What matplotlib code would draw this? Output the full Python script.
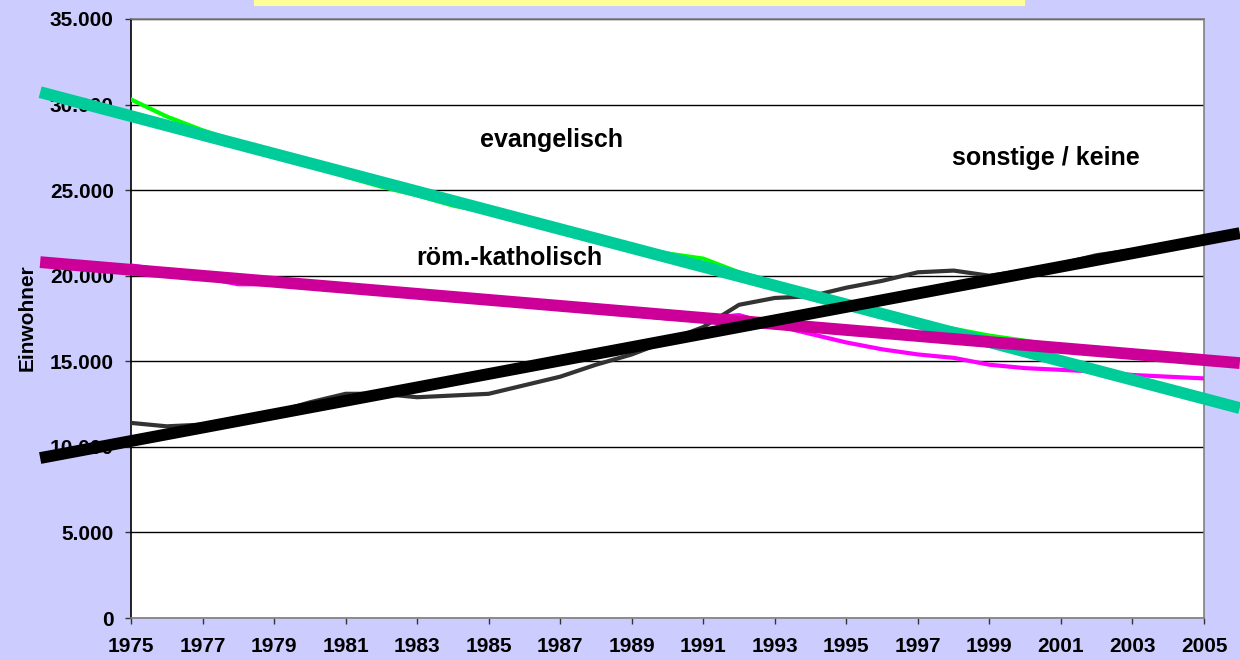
import matplotlib
matplotlib.use("Agg")
import matplotlib.pyplot as plt
from matplotlib.patches import Rectangle

plt.rcParams['font.family'] = ['Liberation Sans', 'DejaVu Sans']
plt.rcParams['font.weight'] = 'bold'

years = list(range(1975, 2006))
evangelisch = [30300, 29300, 28500, 27800, 27200, 26500, 25800, 25200, 24700, 24100,
               23700, 23200, 22600, 22200, 21700, 21300, 21000, 20200, 19600, 18900,
               18300, 17700, 17200, 16900, 16500, 16200, 15900, 15800, 15500, 15400, 15300]
katholisch = [20600, 20300, 19900, 19500, 19500, 19500, 19400, 19200, 19000, 18800,
              18600, 18300, 18100, 17900, 17700, 17500, 17500, 17700, 17100, 16600,
              16100, 15700, 15400, 15200, 14800, 14600, 14500, 14400, 14200, 14100, 14000]
sonstige = [11400, 11200, 11300, 11600, 12000, 12600, 13100, 13100, 12900, 13000,
            13100, 13600, 14100, 14800, 15400, 16200, 17000, 18300, 18700, 18800,
            19300, 19700, 20200, 20300, 20000, 20300, 20700, 21200, 21500, 21800, 22000]

trend_years = [1972.46, 2006.0]
trend_evangelisch = [30724, 12266]
trend_katholisch = [20794, 14895]
trend_sonstige = [9346, 22488]

xtick_years = list(range(1975, 2006, 2))
yticks = [0, 5000, 10000, 15000, 20000, 25000, 30000, 35000]
ytick_labels = ["0", "5.000", "10.000", "15.000", "20.000", "25.000", "30.000", "35.000"]

fig = plt.figure(figsize=(12.4, 6.6), dpi=100, facecolor='#CCCCFF')
ax = fig.add_axes([131/1240, 1-618/660, (1204-131)/1240, (618-19)/660])
ax.set_facecolor('white')

# yellow title box (cut off at top)
fig.patches.append(Rectangle((254/1240, 1-6/660), (1025-254)/1240, 6/660 + 0.01,
                             transform=fig.transFigure, facecolor='#FFFF99',
                             edgecolor='none', zorder=0))

ax.plot(years, evangelisch, color='#00FF00', lw=3, zorder=3, solid_joinstyle='round')
ax.plot(years, katholisch, color='#FF00FF', lw=3, zorder=3, solid_joinstyle='round')
ax.plot(years, sonstige, color='#333333', lw=3, zorder=3, solid_joinstyle='round')

ax.plot(trend_years, trend_evangelisch, color='#00CC99', lw=8.5, zorder=4,
        clip_on=False, solid_capstyle='butt')
ax.plot(trend_years, trend_katholisch, color='#CC0099', lw=8.5, zorder=5,
        clip_on=False, solid_capstyle='butt')
ax.plot(trend_years, trend_sonstige, color='#000000', lw=8.5, zorder=6,
        clip_on=False, solid_capstyle='butt')

ax.set_xlim(1975, 2005)
ax.set_ylim(0, 35000)
ax.set_yticks(yticks)
ax.set_yticklabels(ytick_labels)
ax.set_xticks(xtick_years)
ax.set_xticklabels([str(y) for y in xtick_years])
ax.tick_params(axis='both', direction='out', length=4.5, width=1, colors='#333333',
               labelcolor='black', labelsize=15)
ax.tick_params(axis='y', pad=8)
ax.tick_params(axis='x', pad=9)
for lab in ax.get_xticklabels() + ax.get_yticklabels():
    lab.set_fontweight('bold')

ax.grid(axis='y', color='black', lw=1, zorder=1)
ax.set_axisbelow(True)
for s in ['top', 'right', 'bottom']:
    ax.spines[s].set_color('#808080')
    ax.spines[s].set_linewidth(1.2)
ax.spines['left'].set_color('black')
ax.spines['left'].set_linewidth(1.2)

fig.text(27/1240, 1-318/660, 'Einwohner', rotation=90, ha='center', va='center',
         fontsize=15, fontweight='bold')

ax.text(1986.77, 27512, 'evangelisch', ha='center', va='baseline', fontsize=18,
        fontweight='bold', zorder=7)
ax.text(1985.57, 20620, 'röm.-katholisch', ha='center', va='baseline', fontsize=18,
        fontweight='bold', zorder=7)
ax.text(2000.58, 26460, 'sonstige / keine', ha='center', va='baseline', fontsize=18,
        fontweight='bold', zorder=7)

fig.savefig('out.png', dpi=100, facecolor=fig.get_facecolor())
